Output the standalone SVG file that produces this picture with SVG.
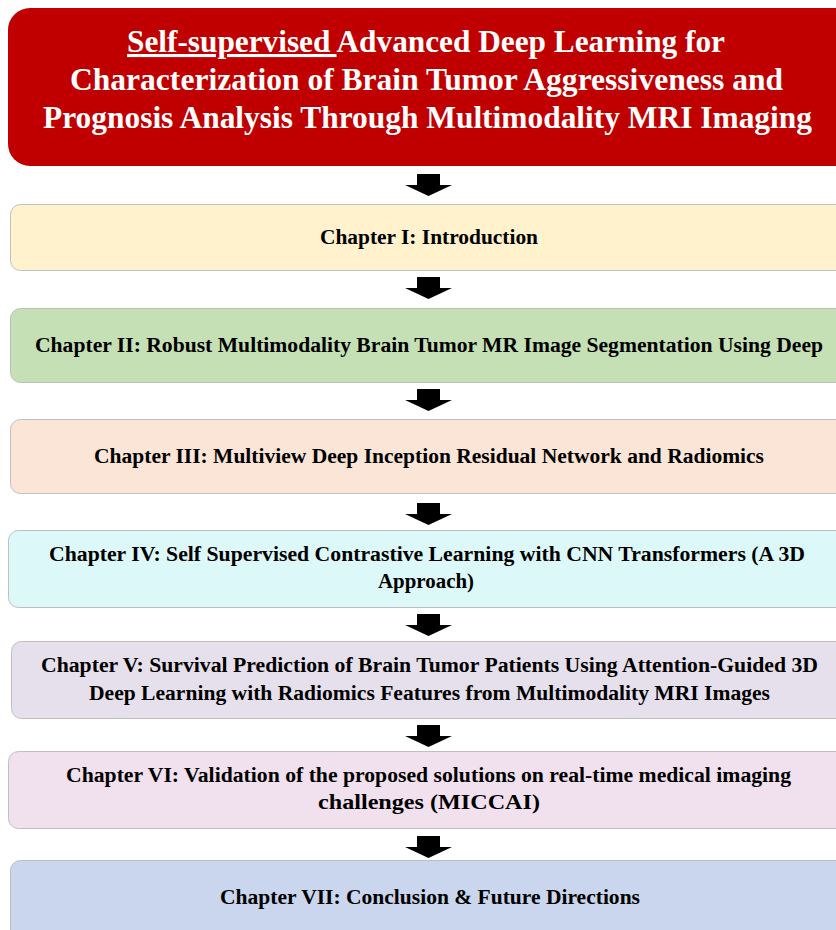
<svg xmlns="http://www.w3.org/2000/svg" width="836" height="930" viewBox="0 0 836 930">
<style>
.box{stroke:#bfbfbf;stroke-width:1}
.t{font-family:"Liberation Serif","Times New Roman",serif;font-weight:bold;font-size:20px;fill:#000;text-anchor:middle}
.tt{font-family:"Liberation Serif","Times New Roman",serif;font-weight:bold;font-size:31px;fill:#fff}
.arr{fill:#000}
</style>
<defs>
<path id="arrow" d="M-11.5,0 H11.5 V11 H23.5 L0,22 L-23.5,11 H-11.5 Z"/>
</defs>
<g id="title">
<rect x="8" y="8" width="860" height="158" rx="22" fill="#C00000"/>
<text class="tt" x="127" y="52" textLength="598" lengthAdjust="spacingAndGlyphs"><tspan text-decoration="underline">Self-supervised </tspan>Advanced Deep Learning for</text>
<text class="tt" x="70" y="90" textLength="713" lengthAdjust="spacingAndGlyphs">Characterization of Brain Tumor Aggressiveness and</text>
<text class="tt" x="43" y="128" textLength="769" lengthAdjust="spacingAndGlyphs">Prognosis Analysis Through Multimodality MRI Imaging</text>
</g>
<g id="ch1">
<rect class="box" x="10.5" y="204.5" width="850" height="66" rx="10" fill="#FFF2CC"/>
<text class="t" x="429" y="244" textLength="218" lengthAdjust="spacingAndGlyphs">Chapter I: Introduction</text>
</g>
<g id="ch2">
<rect class="box" x="10.5" y="308.5" width="850" height="74" rx="10" fill="#C5E0B4"/>
<text class="t" x="429" y="352" textLength="788" lengthAdjust="spacingAndGlyphs">Chapter II: Robust Multimodality Brain Tumor MR Image Segmentation Using Deep</text>
</g>
<g id="ch3">
<rect class="box" x="10.5" y="419.5" width="850" height="74" rx="10" fill="#FBE5D6"/>
<text class="t" x="429" y="463" textLength="670" lengthAdjust="spacingAndGlyphs">Chapter III: Multiview Deep Inception Residual Network and Radiomics</text>
</g>
<g id="ch4">
<rect class="box" x="8.5" y="530.5" width="850" height="77" rx="10" fill="#DDF8F8"/>
<text class="t" x="427" y="561" textLength="756" lengthAdjust="spacingAndGlyphs">Chapter IV: Self Supervised Contrastive Learning with CNN Transformers (A 3D</text>
<text class="t" x="426" y="588" textLength="96" lengthAdjust="spacingAndGlyphs">Approach)</text>
</g>
<g id="ch5">
<rect class="box" x="11.5" y="641.5" width="850" height="77" rx="10" fill="#E6E0EC"/>
<text class="t" x="429.5" y="672" textLength="777" lengthAdjust="spacingAndGlyphs">Chapter V: Survival Prediction of Brain Tumor Patients Using Attention-Guided 3D</text>
<text class="t" x="429.5" y="700" textLength="681" lengthAdjust="spacingAndGlyphs">Deep Learning with Radiomics Features from Multimodality MRI Images</text>
</g>
<g id="ch6">
<rect class="box" x="8.5" y="751.5" width="850" height="77" rx="10" fill="#F1E0EE"/>
<text class="t" x="428.5" y="782" textLength="725" lengthAdjust="spacingAndGlyphs">Chapter VI: Validation of the proposed solutions on real-time medical imaging</text>
<text class="t" x="429" y="809" textLength="222" lengthAdjust="spacingAndGlyphs">challenges (MICCAI)</text>
</g>
<g id="ch7">
<rect class="box" x="10.5" y="860.5" width="850" height="100" rx="10" fill="#C9D6EE"/>
<text class="t" x="430" y="904" textLength="420" lengthAdjust="spacingAndGlyphs">Chapter VII: Conclusion &amp; Future Directions</text>
</g>
<g id="connectors" class="arr">
<use href="#arrow" x="428.5" y="174"/>
<use href="#arrow" x="428.5" y="277"/>
<use href="#arrow" x="428.5" y="389"/>
<use href="#arrow" x="428.5" y="503"/>
<use href="#arrow" x="428.5" y="614"/>
<use href="#arrow" x="428.5" y="725"/>
<use href="#arrow" x="428.5" y="836"/>
</g>
</svg>
